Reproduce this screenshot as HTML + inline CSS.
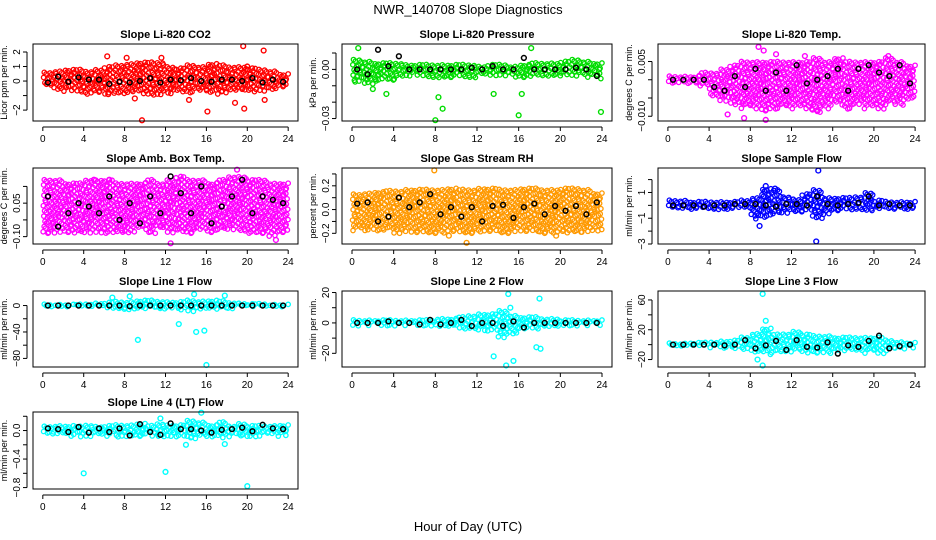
<!DOCTYPE html>
<html><head><meta charset="utf-8"><style>
body{margin:0;background:#fff}
svg{display:block;font-family:"Liberation Sans",sans-serif}
</style></head><body>
<svg id="c" width="936" height="540" xmlns="http://www.w3.org/2000/svg">
<text x="468" y="14" text-anchor="middle" font-size="13">NWR_140708  Slope Diagnostics</text>
<text x="468" y="531" text-anchor="middle" font-size="13">Hour of Day (UTC)</text>
</svg>
<script>
const titles=["Slope Li-820 CO2","Slope Li-820 Pressure","Slope Li-820 Temp.","Slope Amb. Box Temp.","Slope Gas Stream RH","Slope Sample Flow","Slope Line 1 Flow","Slope Line 2 Flow","Slope Line 3 Flow","Slope Line 4 (LT) Flow"];
const yTitles=["Licor ppm per min.","kPa per min.","degrees C per min.","degrees C per min.","percent per min.","ml/min per min.","ml/min per min.","ml/min per min.","ml/min per min.","ml/min per min."];
const colors=["#ff0000","#00dd00","#ff00ff","#ff00ff","#ff9900","#0000ff","#00ffff","#00ffff","#00ffff","#00ffff"];
const yRanges=[[-2.75,2.55],[-0.0315,0.0155],[-0.0113,0.0098],[-0.122,0.105],[-0.29,0.35],[-3.0,2.9],[-93,22],[-29,21],[-30,72],[-0.82,0.26]];
const yTicks=[[-2,-1,0,1,2],[-0.03,-0.02,-0.01,0,0.01],[-0.01,-0.005,0,0.005],[-0.1,-0.05,0,0.05],[-0.2,-0.1,0,0.1,0.2,0.3],[-3,-2,-1,0,1,2],[-80,-60,-40,-20,0],[-20,-10,0,10,20],[-20,0,20,40,60],[-0.8,-0.6,-0.4,-0.2,0,0.2]];
const yLabels=[["-2","","0","1","2"],["-0.03","","","0.00",""],["-0.010","","","0.005"],["-0.10","","0.05",""],["-0.2","","0.0","","0.2",""],["-3","","-1","","1",""],["-80","","-40","","0"],["-20","","0","","20"],["-20","","20","","60"],["-0.8","","-0.4","","0.0",""]];
const xTicks=[0,4,8,12,16,20,24];
// hourly spread of coloured points (lo / hi)
const bandLo=[
[-0.4,-0.6,-0.7,-0.8,-0.9,-0.8,-0.9,-0.9,-0.9,-0.9,-1,-1,-0.9,-0.8,-0.8,-0.7,-0.9,-0.9,-0.8,-0.8,-0.8,-0.7,-0.7,-0.5],
[-0.008,-0.009,-0.008,-0.007,-0.006,-0.004,-0.004,-0.005,-0.006,-0.006,-0.005,-0.005,-0.004,-0.004,-0.004,-0.005,-0.006,-0.005,-0.004,-0.004,-0.004,-0.004,-0.005,-0.006],
[-0.001,-0.001,-0.001,-0.002,-0.005,-0.006,-0.007,-0.008,-0.008,-0.009,-0.008,-0.008,-0.008,-0.008,-0.009,-0.008,-0.007,-0.008,-0.007,-0.008,-0.008,-0.007,-0.007,-0.006],
[-0.09,-0.09,-0.09,-0.09,-0.09,-0.09,-0.09,-0.09,-0.09,-0.08,-0.09,-0.08,-0.09,-0.09,-0.09,-0.08,-0.09,-0.08,-0.08,-0.09,-0.09,-0.09,-0.1,-0.09],
[-0.18,-0.18,-0.19,-0.19,-0.2,-0.19,-0.2,-0.2,-0.2,-0.19,-0.2,-0.2,-0.19,-0.19,-0.2,-0.19,-0.19,-0.19,-0.2,-0.2,-0.2,-0.19,-0.19,-0.18],
[-0.4,-0.3,-0.3,-0.3,-0.4,-0.3,-0.3,-0.4,-1.1,-1.0,-0.8,-0.6,-0.5,-0.5,-1.2,-0.7,-0.5,-0.4,-0.4,-0.5,-0.3,-0.3,-0.3,-0.3],
[-2,-2,-2,-2,-3,-3,-4,-8,-6,-6,-5,-5,-4,-8,-10,-8,-6,-8,-5,-4,-3,-3,-2,-2],
[-2,-2,-2,-2,-2,-2,-2,-2,-3,-3,-4,-5,-5,-6,-10,-8,-4,-4,-3,-3,-2,-2,-2,-2],
[-4,-3,-3,-3,-4,-5,-6,-7,-10,-14,-12,-10,-10,-12,-12,-12,-10,-10,-10,-12,-12,-8,-6,-5],
[-0.08,-0.08,-0.08,-0.09,-0.09,-0.08,-0.08,-0.09,-0.09,-0.09,-0.08,-0.1,-0.09,-0.1,-0.12,-0.1,-0.09,-0.1,-0.09,-0.1,-0.09,-0.08,-0.08,-0.08]];
const bandHi=[
[0.6,0.7,0.8,0.8,0.7,0.8,1,1.1,1.2,1.3,1.3,1.3,1,0.9,1.1,1,1.2,1.1,1,1,0.9,0.8,0.7,0.5],
[0.006,0.005,0.004,0.004,0.004,0.003,0.003,0.003,0.003,0.003,0.003,0.003,0.002,0.003,0.003,0.002,0.003,0.004,0.004,0.004,0.005,0.006,0.005,0.004],
[0.001,0.001,0.001,0.002,0.002,0.003,0.004,0.005,0.005,0.005,0.005,0.005,0.005,0.005,0.006,0.005,0.006,0.005,0.005,0.005,0.005,0.006,0.005,0.004],
[0.07,0.07,0.06,0.06,0.07,0.07,0.07,0.06,0.06,0.06,0.07,0.06,0.07,0.08,0.07,0.07,0.06,0.07,0.08,0.08,0.07,0.07,0.06,0.06],
[0.13,0.14,0.15,0.16,0.16,0.17,0.17,0.17,0.17,0.18,0.17,0.17,0.18,0.18,0.17,0.17,0.18,0.18,0.17,0.17,0.18,0.18,0.17,0.14],
[0.4,0.4,0.3,0.3,0.3,0.3,0.3,0.4,0.6,1.3,1.2,0.7,0.5,0.9,1.2,0.6,0.6,0.6,0.7,1,0.4,0.3,0.3,0.3],
[2,2,2,2,3,4,5,6,6,8,8,7,6,6,8,7,8,7,5,4,3,3,2,2],
[2,2,2,2,2,2,2,2,3,3,4,5,6,6,8,5,4,4,3,3,2,2,2,2],
[2,2,3,3,4,5,6,10,15,22,14,15,18,14,12,12,10,10,10,10,10,6,4,3],
[0.06,0.07,0.07,0.06,0.08,0.06,0.07,0.08,0.08,0.1,0.07,0.1,0.08,0.08,0.14,0.12,0.08,0.12,0.07,0.1,0.07,0.07,0.07,0.08]];
// isolated coloured points [hour, value]
const outliers=[
[[6.3,1.7],[8.2,1.6],[9.7,-2.7],[9,-1.2],[11.6,1.6],[14.3,-1.3],[16.1,-2.1],[18.8,-1.5],[19.6,2.4],[19.7,-1.9],[21.6,2.1],[21.7,-1.3],[20,1],[6.4,-0.9]],
[[0.6,0.013],[8,-0.031],[8.7,-0.024],[8.3,-0.017],[16,-0.028],[17.2,0.013],[23.9,-0.026],[13.6,-0.015],[3.3,-0.015],[2,-0.012],[16.3,-0.015]],
[[8.8,0.009],[9.5,-0.011],[7.4,-0.0105],[13.3,0.0065],[21.4,0.0065],[9.3,0.008],[5.8,-0.0095],[10.5,0.007]],
[[12.5,-0.12],[19,0.1],[5,0.07],[6.5,0.07],[22.8,-0.11]],
[[7.9,0.33],[11,-0.28],[19.6,-0.22],[9.3,-0.22]],
[[14.6,2.7],[14.4,-2.8],[8.9,-1.6],[9.5,1.5],[10.4,1.3]],
[[9.3,-52],[16,-90],[15,-40],[15.8,-38],[14.8,17],[6.8,12],[8.5,14],[17.8,15],[13.3,-28]],
[[15,19],[18,16],[14.8,-28],[13.6,-22],[15.5,-25],[17.7,-16],[18.1,-17],[15.2,10]],
[[9.2,68],[9.2,-28],[8.7,-20],[9.5,32]],
[[4,-0.6],[12,-0.58],[20,-0.78],[15.5,0.25],[14,-0.2],[17.8,-0.19],[11.5,0.17]]];
// black hourly mean points
const means=[
[-0.1,0.3,-0.05,0.25,0.1,0.1,-0.2,-0.05,-0.1,0,0.2,-0.1,0.1,0.05,0.2,0,-0.05,0.1,0.1,0,0.2,-0.1,0.1,-0.05],
[0,-0.003,0.012,0.002,0.008,0,0,0,0,0,0,0.001,0,0.002,0,0,0.007,0,0,0,0,0.001,0,-0.004],
[0,0,0,0,-0.002,-0.003,0.001,-0.002,0.003,-0.003,0.002,-0.003,0.004,-0.001,0,0.001,0.003,-0.003,0.003,0.004,0.002,0.001,0.004,-0.001],
[0.02,-0.07,-0.03,0,-0.01,-0.03,0.02,-0.05,0,-0.06,0.02,-0.03,0.08,0.03,-0.03,0.05,-0.06,-0.01,0.02,0.07,-0.03,0.02,0.01,0],
[0.05,0.06,-0.1,-0.06,0.1,0.02,0.06,0.13,-0.04,0.02,-0.06,0.02,-0.1,0.03,0.04,-0.07,0.02,0.05,-0.04,0.03,-0.01,0.03,-0.04,0.06],
[0,0,0,-0.1,0,0,0.1,0.1,0.1,0,-0.1,0.1,0.1,0,0.7,0.1,0,0.1,0.2,0.7,0,0.1,0,0],
[0,0,0,0,0,0,0,0,-1,0,0,0,0,0,0,0,0,0,0,0,0,0,0,0],
[0,0,0,1,0,0,-1,2,-1,0,2,-2,0,0,-2,1,-3,0,0,0,0,0,0,0],
[0,0,0,0,0,-1,0,6,-5,-1,5,-7,6,-3,-4,3,-12,-1,-3,5,12,-5,-2,0],
[0.03,0.02,-0.02,0.05,-0.03,0.03,-0.02,0.03,-0.07,0.09,-0.02,-0.06,0.1,0.02,0.02,0,-0.03,0.01,0.02,0.04,-0.01,0.08,0.03,0.02]];
const hours=[0.5,1.5,2.5,3.5,4.5,5.5,6.5,7.5,8.5,9.5,10.5,11.5,12.5,13.5,14.5,15.5,16.5,17.5,18.5,19.5,20.5,21.5,22.5,23.5];

const svg=document.getElementById('c');
const NS="http://www.w3.org/2000/svg";
const colX=[[33,298],[342,612],[658,925]];
const rowY=[[44,121],[168,244],[291,367],[412,489]];
function mk(tag,attrs,parent){const e=document.createElementNS(NS,tag);for(const k in attrs)e.setAttribute(k,attrs[k]);(parent||svg).appendChild(e);return e;}
const jit=[0,3.1,1.4,4.6,2.2,5.3,0.7,3.8,1.9,4.9,2.8,0.3,5.8,1.1];
for(let p=0;p<10;p++){
  const [x0,x1]=colX[p%3],[y0,y1]=rowY[Math.floor(p/3)];
  const [ymin,ymax]=yRanges[p];
  const xs=h=>x0+(x1-x0)*(h+0.96)/25.92;
  const ys=v=>y1-(y1-y0)*(v-ymin)/(ymax-ymin);
  const g=mk('g',{});
  
  
  const t=mk('text',{x:(x0+x1)/2,y:y0-6,'text-anchor':'middle','font-size':'11','font-weight':'bold'},g);
  t.textContent=titles[p];
  
  
  const clip=mk('g',{},g);
  
  
  const col=colors[p];
  const lo=bandLo[p],hi=bandHi[p];
  let k=0;
  for(let h=0;h<24;h++){
    for(let s=0;s<4;s++){
      const hx=h+s*0.25+0.12;
      const ya=ys(hi[h]),yb=ys(lo[h]);
      const off=jit[(k++)%jit.length];
      for(let yy=ya+off*0.5,j=0;yy<=yb;yy+=5.2,j++){
        const c=mk('circle',{cx:xs(hx)+jit[(j+k)%jit.length]*0.4-1,cy:yy,r:2.2,fill:'none',stroke:col,'stroke-width':1.3},clip);
        
        
      }
    }
  }
  outliers[p].forEach(([h,v])=>{
    const c=mk('circle',{cx:xs(h),cy:ys(v),r:2.4,fill:'none',stroke:col,'stroke-width':1.4},clip);
    
    
  });
  means[p].forEach((v,i)=>{
    const c=mk('circle',{cx:xs(hours[i]),cy:ys(v),r:2.4,fill:'none',stroke:'#000','stroke-width':1.5},g);
    
    
  });
  const box=mk('rect',{x:x0,y:y0,width:x1-x0,height:y1-y0,fill:'none',stroke:'#000','stroke-width':1},g);
  
  
  const xa=mk('g',{},g);
  
  
  mk('line',{x1:xs(0),x2:xs(24),y1:y1+6,y2:y1+6,stroke:'#000'},xa);
  xTicks.forEach(h=>{
    mk('line',{x1:xs(h),x2:xs(h),y1:y1+6,y2:y1+10,stroke:'#000'},xa);
    const tt=mk('text',{x:xs(h),y:y1+21,'text-anchor':'middle','font-size':'10'},xa);
    tt.textContent=h;
    
    
  });
  const ya=mk('g',{},g);
  
  
  const tk=yTicks[p].filter(v=>v>=ymin-1e-9&&v<=ymax+1e-9);
  mk('line',{x1:x0-6,x2:x0-6,y1:ys(tk[0]),y2:ys(tk[tk.length-1]),stroke:'#000'},ya);
  yTicks[p].forEach((v,i)=>{
    if(v<ymin-1e-9||v>ymax+1e-9)return;
    mk('line',{x1:x0-10,x2:x0-6,y1:ys(v),y2:ys(v),stroke:'#000'},ya);
    if(yLabels[p][i]){
      const tt=mk('text',{x:x0-13,y:ys(v),'text-anchor':'middle','font-size':'10',transform:`rotate(-90 ${x0-13} ${ys(v)})`},ya);
      tt.textContent=yLabels[p][i].replace('-','\u2212');
      
      
    }
  });
  const yt=mk('text',{x:x0-26,y:(y0+y1)/2,'text-anchor':'middle','font-size':'9',transform:`rotate(-90 ${x0-26} ${(y0+y1)/2})`},g);
  yt.textContent=yTitles[p];
  
  
}
</script>
</body></html>
